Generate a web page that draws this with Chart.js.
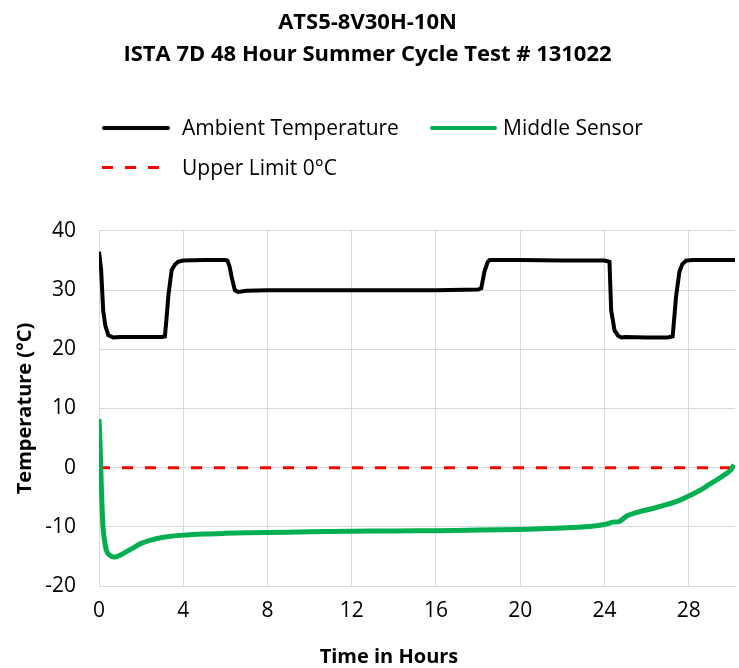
<!DOCTYPE html>
<html>
<head>
<meta charset="utf-8">
<script src="https://cdn.jsdelivr.net/npm/chart.js@4.4.1/dist/chart.umd.min.js"></script>
<style>
  body { margin: 0; background: #fff; }
  #wrap { position: relative; width: 739px; height: 668px; font-family: "Open Sans", Lato, sans-serif; }
  #legend { position: absolute; left: 0; top: 0; width: 739px; height: 668px; pointer-events: none; }
  .item { position: absolute; font-size: 21px; color: #000; white-space: nowrap; line-height: 28px; }
  .swatch { position: absolute; height: 4px; }
  #xtitle { position: absolute; left: 289px; width: 200px; top: 643px; text-align: center; font-size: 20px; font-weight: bold; line-height: 26px; color: #000; }
</style>
</head>
<body>
<div id="wrap">
  <canvas id="chart1" width="739" height="668"></canvas>
  <div id="legend"></div>
</div>
<script>
// data

var ambientHours = [0, 0.1, 0.2, 0.3, 0.44, 0.67, 1, 2, 3, 3.13, 3.2, 3.3, 3.45, 3.6, 3.75, 4, 5, 6, 6.1, 6.2, 6.3, 6.45, 6.6, 7, 8, 12, 16, 18, 18.15, 18.3, 18.45, 18.55, 18.8, 20, 22, 24, 24.24, 24.32, 24.48, 24.65, 24.8, 25, 26, 27, 27.24, 27.32, 27.4, 27.56, 27.7, 27.88, 28.2, 29, 30.2];
var ambientTemp = [36.5, 33.5, 26.5, 24, 22.4, 22, 22.1, 22.1, 22.1, 22.2, 25, 29.3, 33.4, 34.3, 34.8, 35, 35.1, 35.1, 35, 34, 32.2, 30, 29.7, 29.9, 30, 30, 30, 30.1, 30.3, 33.1, 34.7, 35.1, 35.1, 35.1, 35, 35, 34.8, 26.6, 23.2, 22.3, 22, 22.1, 22, 22, 22.2, 25.5, 28.9, 33.1, 34.4, 35, 35.1, 35.1, 35.1];

var sensorHours = [0, 0.05, 0.1, 0.15, 0.2, 0.3, 0.4, 0.55, 0.75, 1, 1.3, 1.6, 2, 2.5, 3, 4, 5, 6, 8, 10, 12, 14, 16, 18, 20, 22, 23.4, 24, 24.4, 24.7, 25.1, 25.7, 26.3, 26.9, 27.5, 28, 28.5, 29, 29.5, 30, 30.15];
var sensorTemp = [8.2, 4, -2, -7, -10.5, -13.2, -14.4, -14.9, -15.1, -14.8, -14.2, -13.6, -12.8, -12.2, -11.8, -11.4, -11.2, -11.1, -10.95, -10.85, -10.75, -10.7, -10.65, -10.55, -10.45, -10.2, -9.9, -9.6, -9.2, -9.1, -8.1, -7.4, -6.9, -6.3, -5.6, -4.8, -3.9, -2.8, -1.7, -0.4, 0.5];

var limitHours = [0, 30.2];
var limitTemp = [0, 0];

var seriesNames = ['Ambient Temperature', 'Middle Sensor', 'Upper Limit 0°C'];
var titleLines = ['ATS5-8V30H-10N', 'ISTA 7D 48 Hour Summer Cycle Test # 131022'];
var xTitle = 'Time in Hours';
var yTitle = 'Temperature (°C)';

function pairs(xs, ys) {
  return xs.map(function (x, i) { return { x: x, y: ys[i] }; });
}

var graph = document.getElementById('chart1');
var fontName = '"Open Sans", Lato, sans-serif';

var myChart = new Chart(graph, {
  type: 'line',
  data: {
    datasets: [{
      label: seriesNames[0],
      data: pairs(ambientHours, ambientTemp),
      borderColor: '#000000',
      borderWidth: 4,
      pointRadius: 0,
      tension: 0
    }, {
      label: seriesNames[1],
      data: pairs(sensorHours, sensorTemp),
      borderColor: '#00B050',
      borderWidth: 5,
      pointRadius: 0,
      tension: 0.3
    }, {
      label: seriesNames[2],
      data: pairs(limitHours, limitTemp),
      borderColor: '#FF0000',
      borderWidth: 3,
      borderDash: [11, 12],
      pointRadius: 0
    }]
  },
  options: {
    responsive: false,
    animation: false,
    layout: { padding: { top: 0, right: 4, bottom: 0, left: 0 } },
    plugins: {
      legend: { display: false },
      tooltip: { enabled: false },
      title: {
        display: true,
        text: titleLines,
        color: '#000',
        font: { family: fontName, size: 22, weight: 'bold', lineHeight: 1.4545 },
        padding: { top: 7, bottom: 160 }
      }
    },
    scales: {
      x: {
        type: 'linear',
        min: 0,
        max: 30.2,
        afterFit: function (s) { s.height = 82; },
        grid: { color: '#d9d9d9', drawTicks: false },
        border: { color: '#d9d9d9' },
        ticks: { stepSize: 4, includeBounds: false, padding: 12, color: '#000', font: { family: fontName, size: 21 } },
        title: { display: false }
      },
      y: {
        min: -20,
        max: 40,
        afterFit: function (s) { s.width = 99; },
        grid: { color: '#d9d9d9', drawTicks: false },
        border: { color: '#d9d9d9' },
        ticks: { stepSize: 10, padding: 23, color: '#000', font: { family: fontName, size: 21 } },
        title: { display: true, text: yTitle, color: '#000', font: { family: fontName, size: 20, weight: 'bold' }, padding: { top: 13, bottom: 0 } }
      }
    }
  }
});

// legend laid out like the reference: two items on the first row, one below
var legendSpots = [
  { x: 102, y: 128, w: 68, tx: 182, color: '#000000', dash: false },
  { x: 430, y: 128, w: 67, tx: 503, color: '#00B050', dash: false },
  { x: 102, y: 168, w: 63, tx: 182, color: '#FF0000', dash: true }
];
var legend = document.getElementById('legend');
legendSpots.forEach(function (spot, i) {
  var sw = document.createElement('div');
  sw.className = 'swatch';
  sw.style.left = spot.x + 'px';
  sw.style.top = (spot.y - 2) + 'px';
  sw.style.width = spot.w + 'px';
  if (spot.dash) {
    sw.style.height = '3px';
    sw.style.background = 'repeating-linear-gradient(to right, ' + spot.color + ' 0 11px, transparent 11px 23px)';
  } else {
    sw.style.background = spot.color;
    sw.style.borderRadius = '2px';
  }
  legend.appendChild(sw);
  var tx = document.createElement('div');
  tx.className = 'item';
  tx.style.left = spot.tx + 'px';
  tx.style.top = (spot.y - 15) + 'px';
  tx.textContent = seriesNames[i];
  legend.appendChild(tx);
});

// x axis title sits left of centre in the reference
var xt = document.createElement('div');
xt.id = 'xtitle';
xt.textContent = xTitle;
legend.appendChild(xt);
</script>
</body>
</html>
